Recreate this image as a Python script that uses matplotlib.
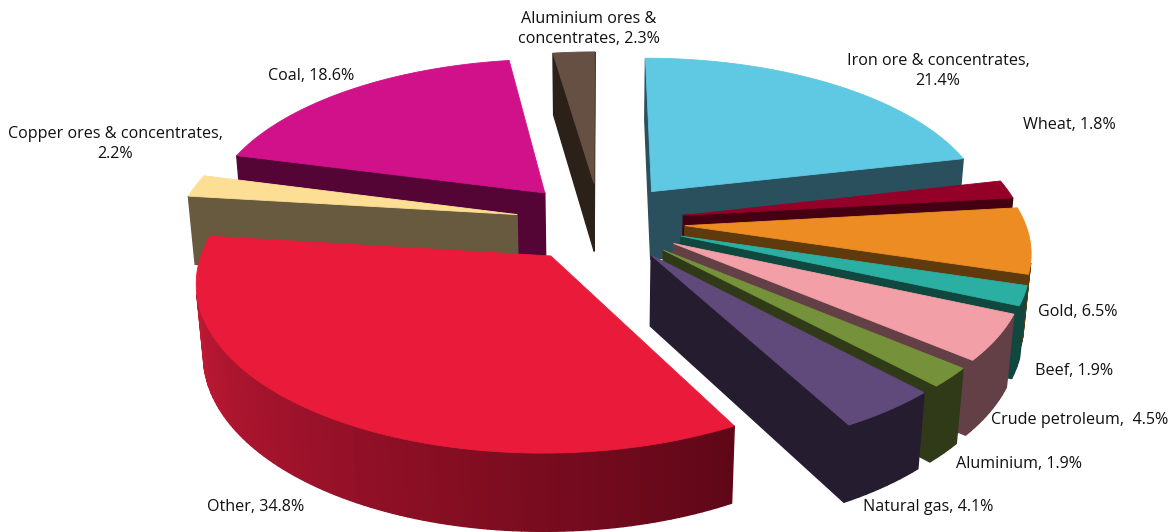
import numpy as np
import matplotlib.pyplot as plt

labels = ['Iron ore & concentrates,\n21.4%', 'Wheat, 1.8%', 'Gold, 6.5%', 'Beef, 1.9%',
          'Crude petroleum,  4.5%', 'Aluminium, 1.9%', 'Natural gas, 4.1%', 'Other, 34.8%',
          'Copper ores & concentrates,\n2.2%', 'Coal, 18.6%', 'Aluminium ores &\nconcentrates, 2.3%']
values = [21.4, 1.8, 6.5, 1.9, 4.5, 1.9, 4.1, 34.8, 2.2, 18.6, 2.3]

top_colors = ['#5fc8e3', '#950029', '#ec8c23', '#2bafa3', '#f29fa7', '#75923a',
              '#604a7b', '#ea1a3b', '#fcdf95', '#d0118a', '#665043']
wall_colors = ['#2a505e', '#440012', '#5f3a0c', '#10483f', '#633f46', '#303a18',
               '#261c30', '#5e0717', '#675a3e', '#540535', '#2b2118']
label_xy = [(938, 71), (1069, 125), (1078, 312), (1074, 371), (1080, 420), (1019, 464),
            (928, 507), (256, 507), (115, 144), (311, 76), (589, 29)]

# camera for the 3d look
CX, CY = 600, 222
FOCAL = 2176
DIST = 6.4
TILT = np.radians(28)
DEPTH = 0.235
EXPLODE = 0.25


def project(x, y, z):
    d = DIST + y * np.cos(TILT) - z * np.sin(TILT)
    return (CX + FOCAL * x / d, CY - FOCAL * (y * np.sin(TILT) + z * np.cos(TILT)) / d)


def area(poly):
    pts = np.array(poly)
    xs, ys = pts[:, 0], pts[:, 1]
    return 0.5 * np.sum(xs * np.roll(ys, -1) - np.roll(xs, -1) * ys)


fig = plt.figure(figsize=(11.72, 5.32), dpi=100)
ax = fig.add_axes([0, 0, 1, 1])
ax.set_xlim(0, 1172)
ax.set_ylim(532, 0)
ax.axis('off')

# start angle of every slice, clockwise from 12 o'clock
shares = np.array(values) / sum(values)
starts = np.pi / 2 - 2 * np.pi * np.concatenate([[0], np.cumsum(shares)[:-1]])
mids = starts - np.pi * shares
order = np.argsort(-np.sin(mids))

for i in order:
    ox = EXPLODE * np.cos(mids[i])
    oy = EXPLODE * np.sin(mids[i])
    n = max(3, int(values[i] * 3))
    thetas = np.linspace(starts[i], starts[i] - 2 * np.pi * shares[i], n)
    rim = [(ox + np.cos(t), oy + np.sin(t)) for t in thetas]
    outline = [(ox, oy)] + rim

    # walls, only the ones that face the viewer (y runs down on screen)
    for k in range(len(outline)):
        a = outline[k]
        b = outline[(k + 1) % len(outline)]
        quad = [project(a[0], a[1], 0), project(b[0], b[1], 0),
                project(b[0], b[1], -DEPTH), project(a[0], a[1], -DEPTH)]
        if area(quad) < 0:
            color = wall_colors[i]
            if labels[i].startswith('Other') and 0 < k < len(outline) - 1:
                # the big slice fades along its rim
                f = k / (len(outline) - 1)
                c0 = np.array([0xd2, 0x1c, 0x3a]) / 255
                c1 = np.array([0x5e, 0x07, 0x17]) / 255
                color = tuple(c1 + (c0 - c1) * f)
            ax.fill(*zip(*quad), color=color, lw=1.0, zorder=2)

    top = [project(p[0], p[1], 0) for p in outline]
    ax.fill(*zip(*top), color=top_colors[i], lw=0.6, zorder=2)

for lab, xy in zip(labels, label_xy):
    ax.text(xy[0], xy[1], lab, ha='center', va='center', fontsize=11.6,
            family='Open Sans', color='#111111', linespacing=1.3, zorder=5)

fig.savefig('out.png', dpi=100)
